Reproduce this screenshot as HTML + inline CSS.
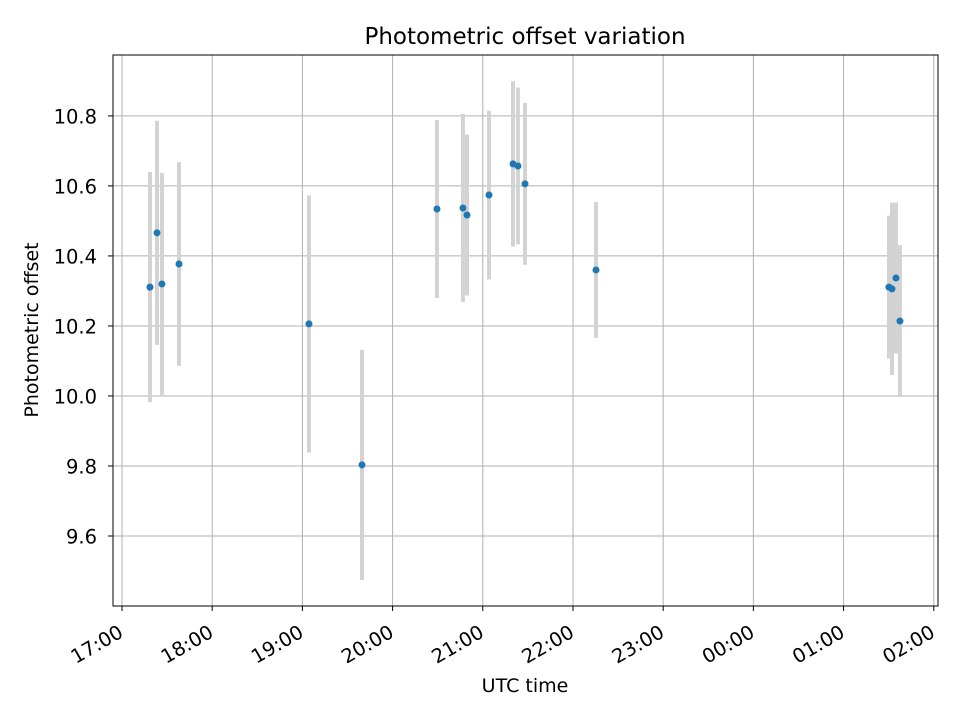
<!DOCTYPE html>
<html><head><meta charset="utf-8"><style>
body{margin:0;background:#fff}
text{font-family:"DejaVu Sans","Liberation Sans",sans-serif;fill:#000}
</style></head><body>
<svg id="chart" width="960" height="720" xmlns="http://www.w3.org/2000/svg">
<rect width="960" height="720" fill="#fff"/>
<g id="grid"></g><g id="marks"></g><g id="axes"></g>
<text x="525" y="44" font-size="23" text-anchor="middle">Photometric offset variation</text>
<text x="525" y="692" font-size="19" text-anchor="middle">UTC time</text>
<text x="38" y="330" font-size="19" text-anchor="middle" transform="rotate(-90 38 330)">Photometric offset</text>
</svg>
<script>
// hours since 17:00 UTC
const times=[0.310,0.388,0.443,0.632,2.073,2.661,3.492,3.780,3.825,4.069,4.335,4.390,4.468,5.255,8.503,8.537,8.581,8.625];
const offsets=[10.311,10.466,10.320,10.377,10.206,9.803,10.534,10.537,10.517,10.574,10.663,10.657,10.606,10.360,10.311,10.306,10.337,10.214];
const errors=[0.329,0.320,0.317,0.291,0.367,0.329,0.254,0.269,0.230,0.241,0.236,0.224,0.231,0.194,0.204,0.246,0.216,0.217];
const xTickLabels=["17:00","18:00","19:00","20:00","21:00","22:00","23:00","00:00","01:00","02:00"];
const yTicks=[9.6,9.8,10.0,10.2,10.4,10.6,10.8];

const L=113,R=938,T=55,B=606;
const x0=-0.0998,x1=9.047,y0=9.4,y1=10.974;
const sx=v=>L+(v-x0)/(x1-x0)*(R-L);
const sy=v=>B-(v-y0)/(y1-y0)*(B-T);
const NS="http://www.w3.org/2000/svg";
function mk(tag,attrs,parent){const e=document.createElementNS(NS,tag);for(const k in attrs)e.setAttribute(k,attrs[k]);parent.appendChild(e);return e;}
const grid=document.getElementById('grid'),marks=document.getElementById('marks'),axes=document.getElementById('axes');

xTickLabels.forEach((lab,i)=>{
  const x=sx(i);
  const g=mk('line',{x1:x,x2:x,y1:T,y2:B,stroke:'#b0b0b0','stroke-width':1},grid);
  
  
  const t=mk('line',{x1:x,x2:x,y1:B,y2:B+5,stroke:'#000','stroke-width':1},axes);
  
  
  const ax=x+2.5, ay=B+30;
  const tx=mk('text',{x:ax,y:ay,'font-size':19.5,'text-anchor':'end',transform:`rotate(-30 ${ax} ${ay})`},axes);
  tx.textContent=lab;
  
  
});
yTicks.forEach(v=>{
  const y=sy(v);
  const g=mk('line',{x1:L,x2:R,y1:y,y2:y,stroke:'#b0b0b0','stroke-width':1},grid);
  
  
  const t=mk('line',{x1:L-5,x2:L,y1:y,y2:y,stroke:'#000','stroke-width':1},axes);
  
  
  const tx=mk('text',{x:97,y:y+7.5,'font-size':19.5,'text-anchor':'end'},axes);
  tx.textContent=v.toFixed(1);
  
  
});
times.forEach((t,i)=>{
  const x=sx(t);
  const eb=mk('line',{x1:x,x2:x,y1:sy(offsets[i]+errors[i]),y2:sy(offsets[i]-errors[i]),stroke:'#d3d3d3','stroke-width':4},marks);
  
  
});
times.forEach((t,i)=>{
  const c=mk('circle',{cx:sx(t),cy:sy(offsets[i]),r:3.5,fill:'#1f77b4'},marks);
  
  
});
const fr=mk('rect',{x:L,y:T,width:R-L,height:B-T,fill:'none',stroke:'#000','stroke-width':1},axes);


</script>
</body></html>
